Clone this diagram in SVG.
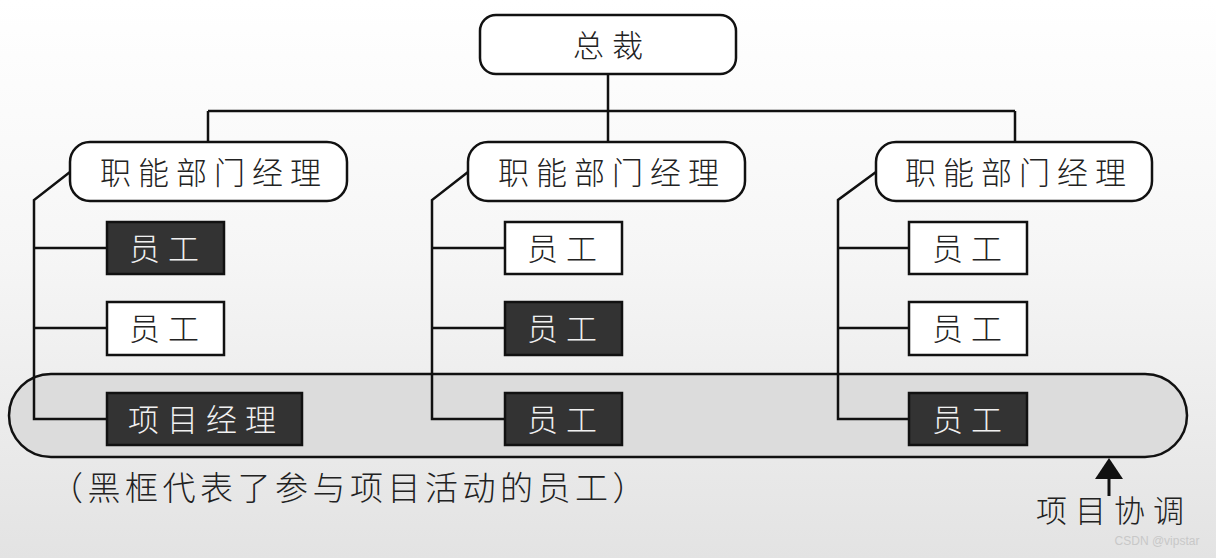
<svg xmlns="http://www.w3.org/2000/svg" width="1216" height="558" viewBox="0 0 1216 558">
<defs>
<linearGradient id="bg" x1="0" y1="0" x2="0" y2="1">
<stop offset="0" stop-color="#ffffff"/>
<stop offset="0.45" stop-color="#f6f6f6"/>
<stop offset="1" stop-color="#e3e3e3"/>
</linearGradient>
</defs>
<style>
.ln{fill:none;stroke:#111;stroke-width:2.5;}
.rbox{fill:#fff;stroke:#111;stroke-width:2.5;}
.wbox{fill:#fff;stroke:#111;stroke-width:2.5;}
.dbox{fill:#333;stroke:#111;stroke-width:2.5;}
text{font-family:"Noto Sans CJK SC","Noto Sans",sans-serif;text-anchor:middle;dominant-baseline:central;font-weight:300;}
.t{font-size:31px;fill:#222;letter-spacing:8px;}
.tw{font-size:31px;fill:#f0f0f0;letter-spacing:8px;}
</style>
<rect x="0" y="0" width="1216" height="558" fill="url(#bg)"/>
<g id="project-band">
<rect x="9" y="374" width="1178" height="83" rx="42" ry="42" fill="#dcdcdc" stroke="#111" stroke-width="2.5"/>
</g>
<g id="connectors">
<path class="ln" d="M608 74 V143 M208 111 H1015 M208 111 V143 M1015 111 V143"/>
<path class="ln" d="M70 172 L34 200 V419 H107 M34 248 H107 M34 328 H107"/>
<path class="ln" d="M468 172 L432 200 V419 H505 M432 248 H505 M432 328 H505"/>
<path class="ln" d="M876 172 L838 200 V419 H909 M838 248 H909 M838 328 H909"/>
<path d="M1109 496 V474" stroke="#111" stroke-width="3" fill="none"/>
<polygon points="1109,458 1123,479 1095,479" fill="#111"/>
</g>
<g id="ceo">
<rect class="rbox" x="480" y="15" width="256" height="59" rx="16"/>
<text class="t" x="612" y="43">总裁</text>
</g>
<g id="mgr1">
<rect class="rbox" x="70" y="142" width="277" height="59" rx="20"/>
<text class="t" x="214" y="170" style="letter-spacing:7px">职能部门经理</text>
</g>
<g id="mgr2">
<rect class="rbox" x="468" y="142" width="277" height="59" rx="20"/>
<text class="t" x="612" y="170" style="letter-spacing:7px">职能部门经理</text>
</g>
<g id="mgr3">
<rect class="rbox" x="876" y="142" width="276" height="59" rx="20"/>
<text class="t" x="1019" y="170" style="letter-spacing:7px">职能部门经理</text>
</g>
<g id="e11"><rect class="dbox" x="107" y="222" width="117" height="52"/><text class="tw" x="168" y="246">员工</text></g>
<g id="e12"><rect class="wbox" x="107" y="302" width="117" height="53"/><text class="t" x="168" y="326">员工</text></g>
<g id="pm"><rect class="dbox" x="107" y="393" width="195" height="52"/><text class="tw" x="206" y="417">项目经理</text></g>
<g id="e21"><rect class="wbox" x="505" y="222" width="117" height="52"/><text class="t" x="566" y="246">员工</text></g>
<g id="e22"><rect class="dbox" x="505" y="302" width="117" height="53"/><text class="tw" x="566" y="326">员工</text></g>
<g id="e23"><rect class="dbox" x="505" y="393" width="117" height="52"/><text class="tw" x="566" y="417">员工</text></g>
<g id="e31"><rect class="wbox" x="909" y="222" width="118" height="52"/><text class="t" x="971" y="246">员工</text></g>
<g id="e32"><rect class="wbox" x="909" y="302" width="118" height="53"/><text class="t" x="971" y="326">员工</text></g>
<g id="e33"><rect class="dbox" x="909" y="393" width="118" height="52"/><text class="tw" x="971" y="417">员工</text></g>
<g id="labels">
<text class="t" x="350" y="486" style="font-size:33px;letter-spacing:4.5px">（黑框代表了参与项目活动的员工）</text>
<text class="t" x="1114" y="508" style="letter-spacing:8px">项目协调</text>
<text x="1157" y="541" style="font-family:'Liberation Sans',sans-serif;font-size:12px;fill:#c8c8c8;font-weight:400">CSDN @vipstar</text>
</g>
</svg>
